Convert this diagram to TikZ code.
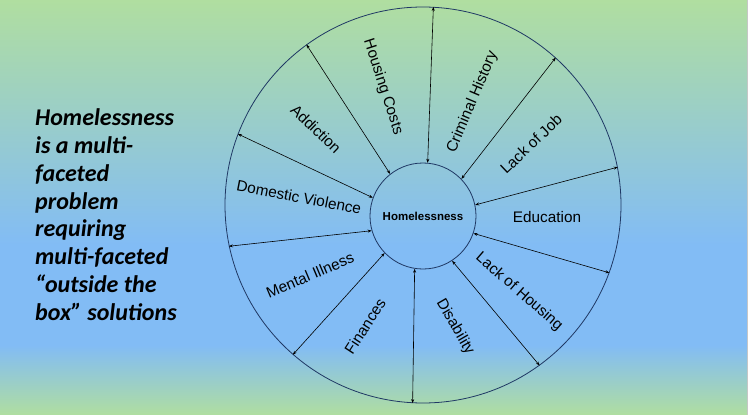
\documentclass[tikz,border=0pt]{standalone}
\usepackage{fontspec}
\setmainfont{Liberation Sans}
\newfontfamily\calib{Carlito}
\usetikzlibrary{arrows.meta}
\definecolor{bggreen}{RGB}{176,222,160}
\definecolor{bgblue}{RGB}{130,188,245}
\definecolor{ringblue}{RGB}{31,56,100}

\begin{document}
\begin{tikzpicture}[x=1pt, y=-1pt,
  factor/.style={font=\fontsize{15.3}{18}\selectfont, inner sep=0pt},
  ring/.style={circle, draw=ringblue, line width=0.8pt, inner sep=0pt},
  link/.style={{Stealth[length=4pt,width=3pt]}-{Stealth[length=4pt,width=3pt]}, line width=0.6pt}]
  % background
  \fill[bgblue] (0,244) rectangle (748,346);
  \shade[top color=bggreen, bottom color=bgblue] (0,0) rectangle (748,245);
  \shade[top color=bgblue, bottom color=bggreen] (0,345) rectangle (748,415);
  \fill[gray!45] (747,0) rectangle (748,415);
  \useasboundingbox (0,0) rectangle (748,415);

  % wheel
  \node[ring, minimum size=396pt] (rim) at (423,205) {};
  \node[ring, minimum size=106pt, font=\bfseries\fontsize{11.5}{13}\selectfont] (hub) at (423,216) {Homelessness};
  \foreach \a/\b in {85/87.5, 128/126, 160.5/159, 44/48.5, 12/11, 196/192, 341/340, 224/229.5, 261/267, 303/306}
    \draw[link] (hub.\a) -- (rim.\b);

  % factors
  \node[factor, rotate=-72]  (housing)   at (383,87)    {Housing Costs};
  \node[factor, rotate=-44]  (addiction) at (316,129)   {Addiction};
  \node[factor, rotate=67]   (criminal)  at (472.5,102) {Criminal History};
  \node[factor, rotate=43.5] (job)       at (531,144)   {Lack of Job};
  \node[factor, rotate=-11]  (violence)  at (299,197)   {Domestic Violence};
  \node[factor]              (education) at (547,217)   {Education};
  \node[factor, rotate=23]   (mental)    at (310,275)   {Mental Illness};
  \node[factor, rotate=57]   (finances)  at (365,326)   {Finances};
  \node[factor, rotate=-60]  (disability) at (455,327)  {Disability};
  \node[factor, rotate=-41]  (shelter)   at (519,292)   {Lack of Housing};

  % statement (base = last line)
  \node[anchor=base west, align=left, inner sep=0pt,
        font=\calib\bfseries\itshape\fontsize{24}{27.8}\selectfont] (claim) at (35,320.3)
    {Homelessness\\ is a multi-\\ faceted\\ problem\\ requiring\\ multi-faceted\\ “outside the\\ box” solutions};
\end{tikzpicture}
\end{document}
